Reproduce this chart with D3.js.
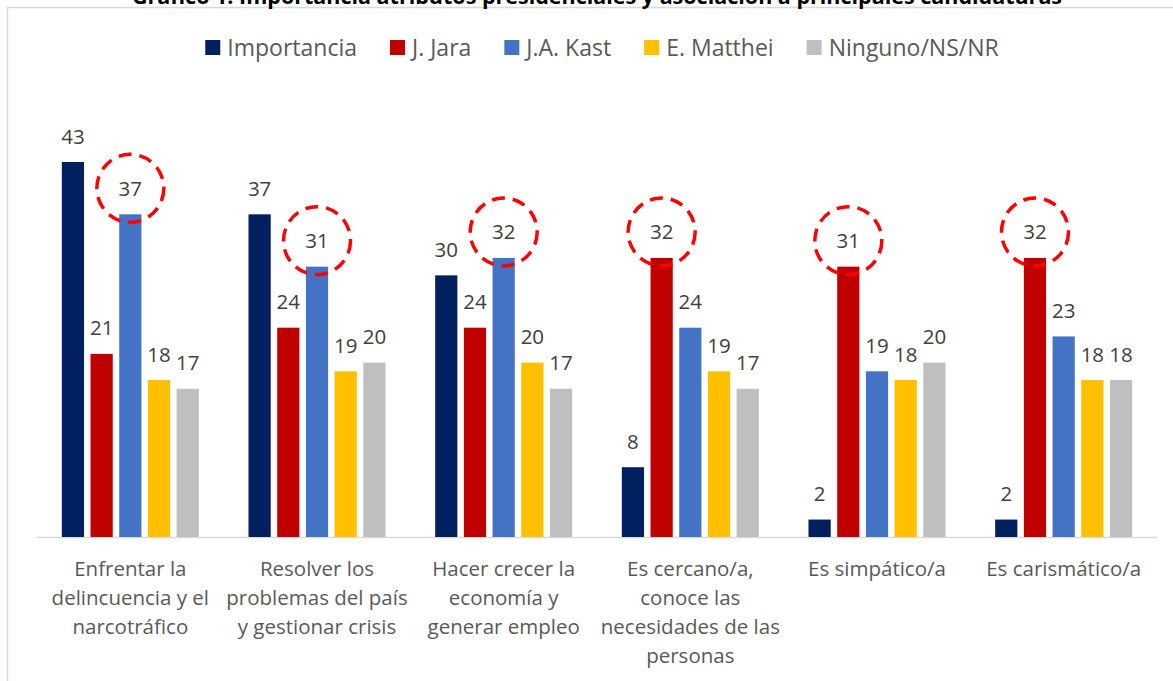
<!DOCTYPE html>
<html>
<head>
<meta charset="utf-8">
<script src="https://cdn.jsdelivr.net/npm/d3@7"></script>
<style>
  body { margin: 0; background: #fff; }
  svg { display: block; font-family: "Open Sans", sans-serif; }
</style>
</head>
<body>
<div id="container"></div>
<script>
/**
 * DATA
 * */
const title = "Gráfico 1: Importancia atributos presidenciales y asociación a principales candidaturas";

const categories = [
  ["Enfrentar la", "delincuencia y el", "narcotráfico"],
  ["Resolver los", "problemas del país", "y gestionar crisis"],
  ["Hacer crecer la", "economía y", "generar empleo"],
  ["Es cercano/a,", "conoce las", "necesidades de las", "personas"],
  ["Es simpático/a"],
  ["Es carismático/a"]
];

const seriesNames = ["Importancia", "J. Jara", "J.A. Kast", "E. Matthei", "Ninguno/NS/NR"];

const importancia = [43, 37, 30, 8, 2, 2];
const jara        = [21, 24, 24, 32, 31, 32];
const kast        = [37, 31, 32, 24, 19, 23];
const matthei     = [18, 19, 20, 19, 18, 18];
const ninguno     = [17, 20, 17, 17, 20, 18];

// which series is circled in each category
const highlighted = ["J.A. Kast", "J.A. Kast", "J.A. Kast", "J. Jara", "J. Jara", "J. Jara"];

/**
 * CONSTANTS
 * */
const width = 1173,
  height = 681,
  margin = { top: 162, bottom: 144, left: 37, right: 16 };

const colors = ["#002060", "#c00000", "#4472c4", "#ffc000", "#bfbfbf"];

let allSeries = [importancia, jara, kast, matthei, ninguno];

let rows = categories.map((c, i) => ({
  key: i,
  values: seriesNames.map((s, j) => ({ cat: i, series: s, value: allSeries[j][i] }))
}));

let svg = d3.select("#container")
  .append("svg")
  .attr("width", width)
  .attr("height", height);

// chart frame (cut off on right / bottom)
svg.append("path")
  .attr("d", `M7.5,${height} V7.5 H${width}`)
  .attr("fill", "none")
  .attr("stroke", "#d9d9d9")
  .attr("stroke-width", 1.5);

// title, mostly cut off at top like in the source
svg.append("text")
  .attr("x", 597)
  .attr("y", 4)
  .attr("text-anchor", "middle")
  .attr("font-weight", "bold")
  .attr("font-size", 21.5)
  .attr("fill", "#000")
  .text(title);

/**
 * SCALES
 * */
let x0 = d3.scaleBand()
  .domain(d3.range(categories.length))
  .range([margin.left, width - margin.right])
  .paddingInner(0.266)
  .paddingOuter(0.133);

let x1 = d3.scaleBand()
  .domain(seriesNames)
  .range([0, x0.bandwidth()])
  .paddingInner(0.226)
  .paddingOuter(0);

let y = d3.scaleLinear()
  .domain([0, 43])
  .range([height - margin.bottom, margin.top]);

let color = d3.scaleOrdinal(seriesNames, colors);

// baseline
svg.append("line")
  .attr("x1", margin.left)
  .attr("x2", width - margin.right)
  .attr("y1", y(0) + 0.5)
  .attr("y2", y(0) + 0.5)
  .attr("stroke", "#d9d9d9")
  .attr("stroke-width", 1.5);

/**
 * BARS
 * */
let groups = svg.selectAll("g.group")
  .data(rows)
  .join("g")
  .attr("class", "group")
  .attr("transform", d => `translate(${x0(d.key)},0)`);

groups.selectAll("rect")
  .data(d => d.values)
  .join("rect")
  .attr("x", d => x1(d.series))
  .attr("y", d => y(d.value))
  .attr("width", x1.bandwidth())
  .attr("height", d => y(0) - y(d.value))
  .attr("fill", d => color(d.series));

groups.selectAll("text.val")
  .data(d => d.values)
  .join("text")
  .attr("class", "val")
  .attr("x", d => x1(d.series) + x1.bandwidth() / 2)
  .attr("y", d => y(d.value) - 18.5)
  .attr("text-anchor", "middle")
  .attr("font-size", 20.5)
  .attr("fill", "#404040")
  .text(d => d.value);

// dashed circles around the highlighted values
groups.selectAll("ellipse")
  .data(d => d.values.filter(v => v.series === highlighted[v.cat]))
  .join("ellipse")
  .attr("cx", d => x1(d.series) + x1.bandwidth() / 2)
  .attr("cy", d => y(d.value) - 26)
  .attr("rx", 33.5)
  .attr("ry", 34)
  .attr("fill", "none")
  .attr("stroke", "#ff0000")
  .attr("stroke-width", 3.5)
  .attr("stroke-dasharray", "13,8");

/**
 * CATEGORY LABELS
 * */
svg.selectAll("text.cat")
  .data(categories)
  .join("text")
  .attr("class", "cat")
  .attr("text-anchor", "middle")
  .attr("font-size", 20.5)
  .attr("fill", "#595959")
  .each(function(lines, i) {
    d3.select(this).selectAll("tspan")
      .data(lines)
      .join("tspan")
      .attr("x", x0(i) + x0.bandwidth() / 2)
      .attr("y", (d, k) => 576 + k * 29)
      .text(d => d);
  });

/**
 * LEGEND
 * */
let legend = svg.append("g").attr("class", "legend");
let items = legend.selectAll("g")
  .data(seriesNames)
  .join("g");

items.append("rect")
  .attr("y", 40)
  .attr("width", 15)
  .attr("height", 15)
  .attr("fill", d => color(d));

items.append("text")
  .attr("x", 22)
  .attr("y", 55.5)
  .attr("font-size", 23)
  .attr("fill", "#595959")
  .text(d => d);

let pos = 0;
items.each(function() {
  let g = d3.select(this);
  g.attr("transform", `translate(${pos},0)`);
  pos += 22 + g.select("text").node().getComputedTextLength() + 33;
});
let legendWidth = pos - 33;
legend.attr("transform", `translate(${602 - legendWidth / 2},0)`);
</script>
</body>
</html>
